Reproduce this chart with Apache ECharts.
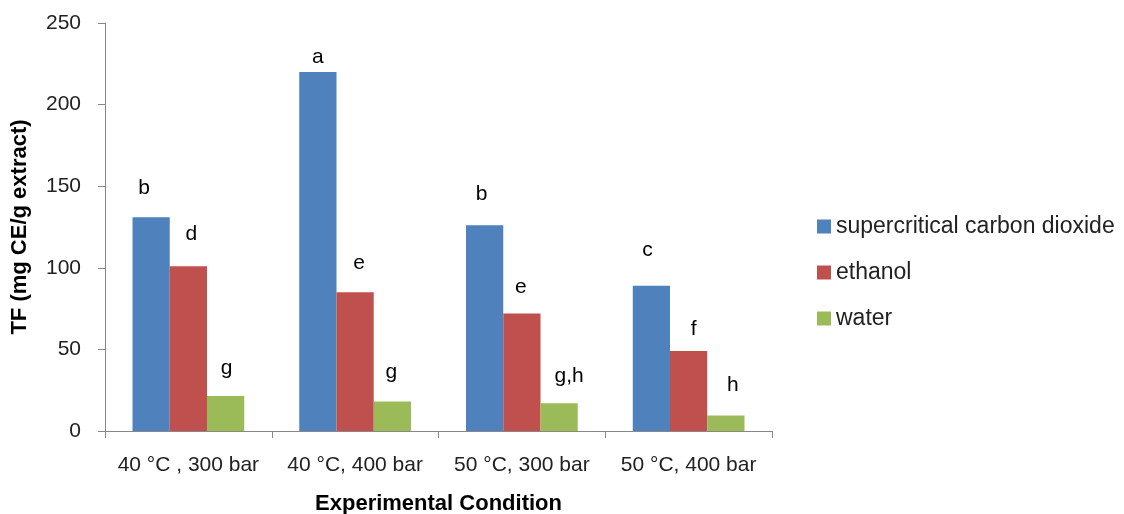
<!DOCTYPE html>
<html>
<head>
<meta charset="utf-8">
<script src="https://cdn.jsdelivr.net/npm/echarts@6/dist/echarts.min.js"></script>
<style>
  html, body { margin: 0; padding: 0; background: #fff; }
  #tf { width: 1124px; height: 514px; }
</style>
</head>
<body>
<div id="tf"></div>
<script>
var conditions = ['40 °C , 300 bar', '40 °C, 400 bar', '50 °C, 300 bar', '50 °C, 400 bar'];
var seriesNames = ['supercritical carbon dioxide', 'ethanol', 'water'];
var scco2 = [131, 220, 126, 89];
var ethanol = [101, 85, 72, 49];
var water = [21.5, 18, 17, 9.5];
var scco2Letters = ['b', 'a', 'b', 'c'];
var ethanolLetters = ['d', 'e', 'e', 'f'];
var waterLetters = ['g', 'g', 'g,h', 'h'];
var yTicks = [0, 50, 100, 150, 200, 250];

// small nudges for the significance letters, [dx, dy] in px
var scco2Nudge = [[-7, -7], [0, 8], [-3, -9], [-4, -13]];
var ethanolNudge = [[3, -9], [4, -7], [-1, -4], [5, 1]];
var waterNudge = [[1, -5], [-1, -7], [10, -5], [7, -8]];

var font = 'Liberation Sans';

function make_series(name, values, letters, nudge, color){
    var data = values.map(function (v, i){
        return {value: v, label: {formatter: letters[i], offset: nudge[i]}};
    });
    return {
        name: name,
        type: 'bar',
        data: data,
        barGap: '0%',
        barCategoryGap: '33%',
        itemStyle: {color: color},
        label: {
            show: true,
            position: 'top',
            distance: 12,
            color: '#000',
            fontFamily: font,
            fontSize: 21
        }
    };
}

var myChart = echarts.init(document.getElementById('tf'));
var option = {
    animation: false,
    textStyle: {fontFamily: font},
    grid: {
        left: 105,
        right: 352,
        top: 23,
        bottom: 83,
        containLabel: false,
        outerBoundsMode: 'none'
    },
    legend: {
        orient: 'vertical',
        left: 812,
        top: 210,
        itemWidth: 14,
        itemHeight: 14,
        itemGap: 23,
        icon: 'rect',
        data: seriesNames,
        textStyle: {fontFamily: font, fontSize: 23, color: '#222'}
    },
    xAxis: {
        type: 'category',
        data: conditions,
        name: 'Experimental Condition',
        nameLocation: 'middle',
        nameGap: 62,
        nameTextStyle: {fontFamily: font, fontSize: 22, fontWeight: 'bold', color: '#000'},
        axisLine: {lineStyle: {color: '#888', width: 1}},
        axisTick: {show: true, interval: 0, length: 7, lineStyle: {color: '#888'}},
        axisLabel: {interval: 0, margin: 24, fontFamily: font, fontSize: 21, color: '#222'}
    },
    yAxis: {
        type: 'value',
        min: yTicks[0],
        max: yTicks[yTicks.length - 1],
        interval: 50,
        name: 'TF (mg CE/g extract)',
        nameLocation: 'middle',
        nameGap: 74,
        nameTextStyle: {fontFamily: font, fontSize: 22, fontWeight: 'bold', color: '#000'},
        splitLine: {show: false},
        axisLine: {show: true, lineStyle: {color: '#888', width: 1}},
        axisTick: {show: true, length: 7, lineStyle: {color: '#888'}},
        axisLabel: {margin: 24, fontFamily: font, fontSize: 21, color: '#222'}
    },
    series: [
        make_series(seriesNames[0], scco2, scco2Letters, scco2Nudge, '#4F81BD'),
        make_series(seriesNames[1], ethanol, ethanolLetters, ethanolNudge, '#C0504D'),
        make_series(seriesNames[2], water, waterLetters, waterNudge, '#9BBB59')
    ]
};
myChart.setOption(option);
</script>
</body>
</html>
